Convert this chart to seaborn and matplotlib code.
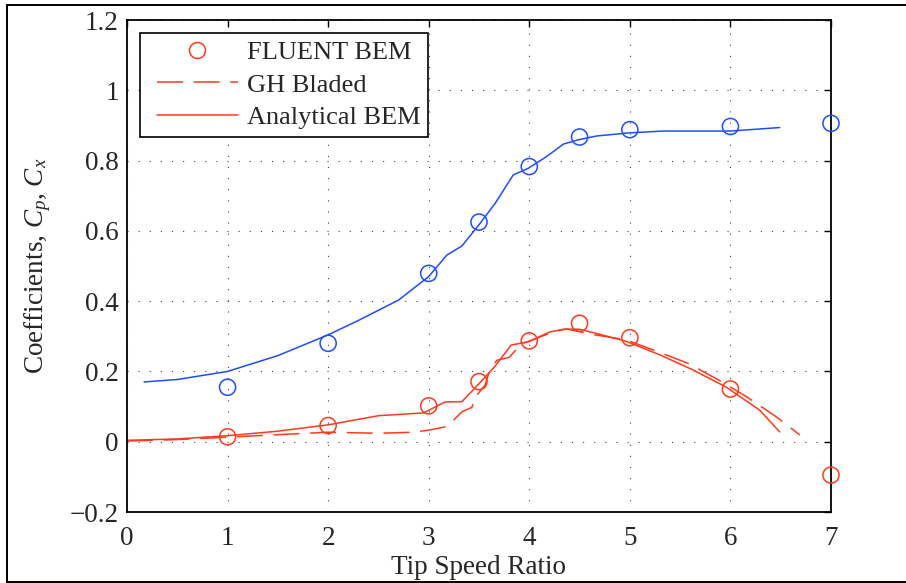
import matplotlib
matplotlib.use("Agg")
import matplotlib.pyplot as plt
from matplotlib.lines import Line2D
from matplotlib.legend_handler import HandlerLine2D
import seaborn as sns

# ---------------- data ----------------
tsr_fluent = [1, 2, 3, 3.5, 4, 4.5, 5, 6, 7]
cp_fluent = [0.014, 0.046, 0.102, 0.171, 0.287, 0.337, 0.296, 0.150, -0.095]
cx_fluent = [0.155, 0.280, 0.479, 0.625, 0.783, 0.867, 0.888, 0.897, 0.906]

tsr_cp_bem = [0.0, 0.5, 1.0, 1.5, 2.0, 2.5, 2.95, 3.16, 3.33, 3.50, 3.66, 3.82, 4.00,
              4.20, 4.34, 4.50, 4.67, 4.97, 5.30, 5.63, 5.96, 6.29, 6.49]
cp_bem = [0.004, 0.008, 0.017, 0.030, 0.048, 0.074, 0.082, 0.113, 0.114, 0.165, 0.215,
          0.275, 0.285, 0.312, 0.320, 0.320, 0.308, 0.285, 0.247, 0.204, 0.155, 0.090, 0.028]

tsr_cp_gh = [0.0, 0.5, 1.0, 1.5, 2.0, 2.5, 2.85, 3.00, 3.18, 3.26, 3.33, 3.43, 3.46,
             3.56, 3.61, 3.68, 3.80, 3.86, 3.94, 4.07, 4.24, 4.37, 4.50, 4.65, 4.77,
             4.97, 5.30, 5.58, 5.88, 6.16, 6.43, 6.52, 6.69]
cp_gh = [0.002, 0.006, 0.013, 0.020, 0.027, 0.024, 0.027, 0.033, 0.043, 0.065, 0.085,
         0.098, 0.126, 0.161, 0.206, 0.232, 0.240, 0.259, 0.280, 0.294, 0.313, 0.321,
         0.313, 0.304, 0.299, 0.289, 0.254, 0.223, 0.176, 0.128, 0.076, 0.057, 0.019]

tsr_cx_bem = [0.17, 0.5, 1.0, 1.5, 2.0, 2.3, 2.7, 3.0, 3.18, 3.33, 3.51, 3.66, 3.84,
              3.99, 4.17, 4.34, 4.50, 4.67, 5.0, 5.33, 6.0, 6.49]
cx_bem = [0.170, 0.177, 0.200, 0.245, 0.304, 0.345, 0.403, 0.470, 0.531, 0.557, 0.621,
          0.678, 0.759, 0.778, 0.811, 0.847, 0.860, 0.870, 0.879, 0.884, 0.884, 0.894]

legend_labels = ["FLUENT BEM", "GH Bladed", "Analytical BEM"]
x_ticks = [0, 1, 2, 3, 4, 5, 6, 7]
y_ticks = [-0.2, 0, 0.2, 0.4, 0.6, 0.8, 1, 1.2]
y_tick_labels = ["\u22120.2", "0", "0.2", "0.4", "0.6", "0.8", "1", "1.2"]

RED = "#ff3a1c"
BLUE = "#1f4cff"
FS = 19.5

# ---------------- style ----------------
sns.set_theme(style="white")
plt.rcParams.update({
    "font.family": ["Liberation Serif", "DejaVu Serif"],
    "mathtext.fontset": "custom",
    "mathtext.rm": "Liberation Serif",
    "mathtext.it": "Liberation Serif:italic",
    "font.size": FS,
    "axes.unicode_minus": True,
})

fig = plt.figure(figsize=(9.06, 5.83), dpi=100)
ax = fig.add_axes([127 / 906, 1 - 512 / 583, 704 / 906, 492 / 583])

# lines
sns.lineplot(x=tsr_cx_bem, y=cx_bem, ax=ax, color=BLUE, linewidth=1.1,
             sort=False, estimator=None)
sns.lineplot(x=tsr_cp_bem, y=cp_bem, ax=ax, color=RED, linewidth=1.1,
             sort=False, estimator=None)
gh = sns.lineplot(x=tsr_cp_gh, y=cp_gh, ax=ax, color=RED, linewidth=1.1,
                  sort=False, estimator=None)
gh.lines[-1].set_dashes((17, 7))

# markers
for yv, col in [(cx_fluent, BLUE), (cp_fluent, RED)]:
    sns.scatterplot(x=tsr_fluent, y=yv, ax=ax, marker="o", s=135,
                    facecolors="none", edgecolors=col, linewidth=1.1,
                    zorder=5, clip_on=False)

ax.set_xlim(0, 7)
ax.set_ylim(-0.2, 1.2)
ax.set_xticks(x_ticks)
ax.set_xticklabels([str(t) for t in x_ticks])
ax.set_yticks(y_ticks)
ax.set_yticklabels(y_tick_labels)

ax.grid(True, color="#444444", linestyle=(0, (1, 9)), linewidth=0.8)
ax.tick_params(direction="in", length=5, width=1.0, top=True, right=True,
               labelsize=FS, color="black")
ax.tick_params(axis="x", pad=10)
ax.tick_params(axis="y", pad=6)
for sp in ax.spines.values():
    sp.set_visible(True)
    sp.set_color("black")
    sp.set_linewidth(1.3)

ax.set_xlabel("Tip Speed Ratio", fontsize=FS, labelpad=3)
ax.set_ylabel(r"Coefficients, $C_p$, $C_x$", fontsize=FS, labelpad=12)

handles = [
    Line2D([], [], marker="o", linestyle="none", markerfacecolor="none",
           markeredgecolor=RED, markersize=11.5, markeredgewidth=1.1),
    Line2D([], [], color=RED, linewidth=1.1, dashes=(17, 7)),
    Line2D([], [], color=RED, linewidth=1.1),
]
leg = ax.legend(handles, legend_labels, loc="upper left",
                bbox_to_anchor=(13 / 704, (512 - 33) / 492), borderaxespad=0,
                fancybox=False, frameon=True, framealpha=1, edgecolor="black",
                fontsize=19, handlelength=3.41, handletextpad=0.34,
                labelspacing=0.33, borderpad=0.3,
                handler_map={Line2D: HandlerLine2D(xpad=0.34)})
leg.get_frame().set_linewidth(1.2)

# figure border
for xs, ys in [([7 / 906, 1.0], [1 - 5 / 583] * 2),
               ([7 / 906, 7 / 906], [1 - 5 / 583, 1 - 582 / 583]),
               ([7 / 906, 1.0], [1 - 582 / 583] * 2)]:
    fig.add_artist(Line2D(xs, ys, color="black", linewidth=1.4,
                          transform=fig.transFigure))

fig.savefig("out.png", dpi=100)
